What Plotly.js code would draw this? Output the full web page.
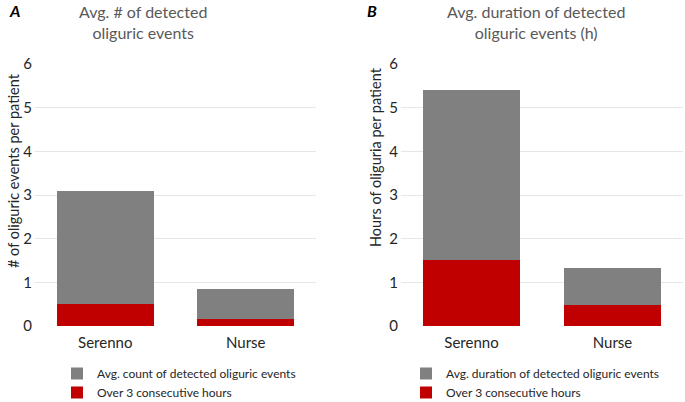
<!DOCTYPE html>
<html>
<head>
<meta charset="utf-8">
<script src="https://cdn.plot.ly/plotly-3.0.1.min.js"></script>
<style>html,body{margin:0;padding:0;background:#fff}#chart{width:685px;height:402px}</style>
</head>
<body>
<div id="chart"></div>
<script>
// Data
var categories = ["Serenno", "Nurse"];
// Panel A: average number of detected oliguric events per patient
var countTotal = [3.1, 0.85];
var countOver3h = [0.5, 0.15];
// Panel B: average duration (hours) of detected oliguric events per patient
var durationTotal = [5.4, 1.33];
var durationOver3h = [1.52, 0.47];
var yTicks = [0, 1, 2, 3, 4, 5, 6];

var GRAY = "#808080", RED = "#C00000";
var FONT = "Lato, 'Open Sans', sans-serif";

function diff(a, b) { return a.map(function (v, i) { return +(v - b[i]).toFixed(3); }); }

var traces = [
  {type: "bar", x: categories, y: countOver3h, name: "Over 3 consecutive hours",
   marker: {color: RED}, xaxis: "x", yaxis: "y", legend: "legend", hoverinfo: "y"},
  {type: "bar", x: categories, y: diff(countTotal, countOver3h), name: "Avg. count of detected oliguric events",
   marker: {color: GRAY}, xaxis: "x", yaxis: "y", legend: "legend", hoverinfo: "y"},
  {type: "bar", x: categories, y: durationOver3h, name: "Over 3 consecutive hours",
   marker: {color: RED}, xaxis: "x2", yaxis: "y2", legend: "legend2", hoverinfo: "y"},
  {type: "bar", x: categories, y: diff(durationTotal, durationOver3h), name: "Avg. duration of detected oliguric events",
   marker: {color: GRAY}, xaxis: "x2", yaxis: "y2", legend: "legend2", hoverinfo: "y"}
];

var W = 685, H = 402;
var yDom = [1 - 326 / H, 1 - 64 / H];
var gridColor = "#e2e8e8";

function yaxisDef(anchor) {
  return {domain: yDom, anchor: anchor, range: [0, 6], tickvals: yTicks, ticktext: yTicks.map(String),
    showgrid: true, gridcolor: gridColor, gridwidth: 1, zeroline: false, showline: false,
    ticks: "", ticklen: 0, ticklabelstandoff: 2, tickfont: {family: FONT, size: 15, color: "#262626"},
    automargin: false, fixedrange: true};
}
function xaxisDef(domain, anchor) {
  return {domain: domain, anchor: anchor, range: [-0.5, 1.5], showline: false, zeroline: false,
    showgrid: false, ticks: "", ticklabelstandoff: 6, tickfont: {family: FONT, size: 15, color: "#262626"},
    automargin: false, fixedrange: true};
}

var legendCommon = {orientation: "v", traceorder: "reversed", xanchor: "left", yanchor: "top",
  xref: "container", yref: "container",
  font: {family: FONT, size: 12, color: "#262626"}, bgcolor: "rgba(0,0,0,0)",
  itemwidth: 30, tracegroupgap: 0};

var layout = {
  width: W, height: H,
  margin: {l: 0, r: 0, t: 0, b: 0, autoexpand: false},
  paper_bgcolor: "#fff", plot_bgcolor: "#fff",
  barmode: "stack", bargap: 0.31,
  showlegend: true,
  xaxis: xaxisDef([35 / W, 316 / W], "y"),
  yaxis: yaxisDef("x"),
  xaxis2: xaxisDef([401 / W, 683 / W], "y2"),
  yaxis2: yaxisDef("x2"),
  legend: Object.assign({x: 57 / W, y: 1 - 359 / H}, legendCommon),
  legend2: Object.assign({x: 406 / W, y: 1 - 359 / H}, legendCommon),
  annotations: [
    {text: "Avg. # of detected<br>oliguric events", xref: "paper", yref: "paper",
     x: 143 / W, y: 1 - 22 / H, xanchor: "center", yanchor: "middle", showarrow: false,
     font: {family: FONT, size: 16, color: "#595959"}},
    {text: "Avg. duration of detected<br>oliguric events (h)", xref: "paper", yref: "paper",
     x: 536 / W, y: 1 - 22 / H, xanchor: "center", yanchor: "middle", showarrow: false,
     font: {family: FONT, size: 16, color: "#595959"}},
    {text: "<b><i>A</i></b>", xref: "paper", yref: "paper", x: 14 / W, y: 1 - 10 / H,
     xanchor: "center", yanchor: "middle", showarrow: false, font: {family: FONT, size: 16, color: "#000"}},
    {text: "<b><i>B</i></b>", xref: "paper", yref: "paper", x: 372 / W, y: 1 - 10 / H,
     xanchor: "center", yanchor: "middle", showarrow: false, font: {family: FONT, size: 16, color: "#000"}},
    {text: "# of oliguric events per patient", xref: "paper", yref: "paper", x: 13 / W, y: 1 - 171 / H,
     xanchor: "center", yanchor: "middle", textangle: -90, showarrow: false,
     font: {family: FONT, size: 14.5, color: "#262626"}},
    {text: "Hours of oliguria per patient", xref: "paper", yref: "paper", x: 375 / W, y: 1 - 157 / H,
     xanchor: "center", yanchor: "middle", textangle: -90, showarrow: false,
     font: {family: FONT, size: 14.5, color: "#262626"}}
  ]
};

Plotly.newPlot("chart", traces, layout, {staticPlot: true, displayModeBar: false});
</script>
</body>
</html>
